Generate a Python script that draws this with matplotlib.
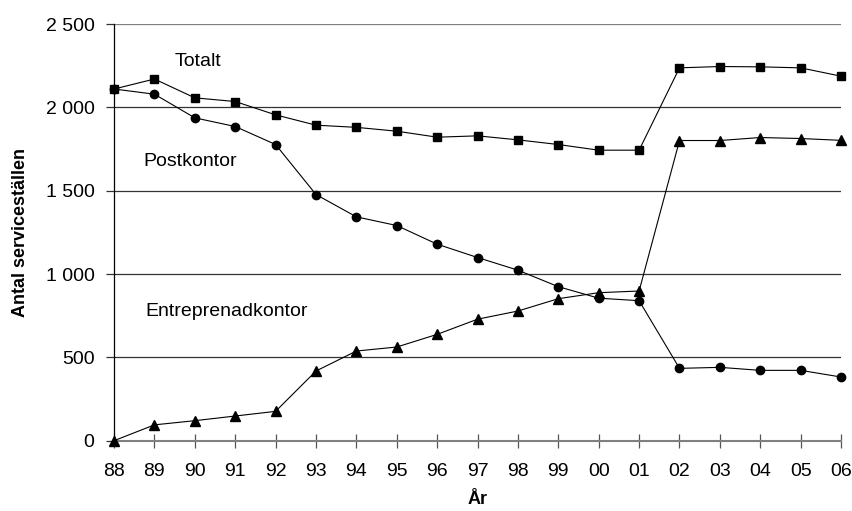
import matplotlib.pyplot as plt
import numpy as np

plt.rcParams['font.family'] = ['Liberation Sans', 'DejaVu Sans']

years = ['88', '89', '90', '91', '92', '93', '94', '95', '96', '97',
         '98', '99', '00', '01', '02', '03', '04', '05', '06']
totalt = [2110, 2170, 2057, 2035, 1955, 1893, 1880, 1857, 1821, 1829,
          1805, 1777, 1743, 1743, 2237, 2245, 2243, 2237, 2187]
postkontor = [2110, 2079, 1937, 1885, 1777, 1477, 1343, 1291, 1179, 1099,
              1023, 924, 855, 840, 434, 440, 422, 422, 382]
entreprenad = [0, 95, 120, 148, 176, 418, 538, 562, 638, 729,
               778, 852, 888, 898, 1801, 1801, 1819, 1813, 1802]

fs = 14

fig = plt.figure(figsize=(8.53, 5.11), dpi=100)
ax = fig.add_axes([0.1337, 0.1376, 0.8523, 0.8154])

x = np.arange(len(years))
ax.plot(x, totalt, color='black', lw=0.8, marker='s', ms=6, clip_on=False, zorder=3)
ax.plot(x, postkontor, color='black', lw=0.8, marker='o', ms=6, clip_on=False, zorder=3)
ax.plot(x, entreprenad, color='black', lw=0.8, marker='^', ms=7, clip_on=False, zorder=3)

ax.set_xlim(0, len(years) - 1)
ax.set_ylim(0, 2500)
yt = np.arange(0, 2501, 500)
ax.set_yticks(yt)
ax.set_yticklabels(['{:,}'.format(v).replace(',', ' ') for v in yt], fontsize=fs)
ax.set_xticks(x)
ax.set_xticklabels(years, fontsize=fs)

for v in yt[1:]:
    ax.axhline(v, color='#333333' if v < 2500 else '#808080', lw=0.9, zorder=1)

for s in ['top', 'right']:
    ax.spines[s].set_visible(False)
ax.spines['left'].set_color('black')
ax.spines['left'].set_linewidth(0.9)
ax.spines['bottom'].set_color('#808080')
ax.spines['bottom'].set_linewidth(1.5)
ax.tick_params(axis='x', direction='inout', length=10, width=0.9, color='#555555', pad=11)
ax.tick_params(axis='y', direction='out', length=6, width=0.9, color='#333333', pad=8)

ax.text(0.1155, 0.909, 'Totalt', transform=ax.transAxes, ha='center', va='center', fontsize=fs)
ax.text(0.1045, 0.669, 'Postkontor', transform=ax.transAxes, ha='center', va='center', fontsize=fs)
ax.text(0.155, 0.309, 'Entreprenadkontor', transform=ax.transAxes, ha='center', va='center', fontsize=fs)

ax.set_ylabel('Antal serviceställen', fontsize=fs - 1, fontweight='bold', labelpad=12)
ax.set_xlabel('År', fontsize=fs - 1, fontweight='bold', labelpad=8)

fig.savefig('out.png', dpi=100)
